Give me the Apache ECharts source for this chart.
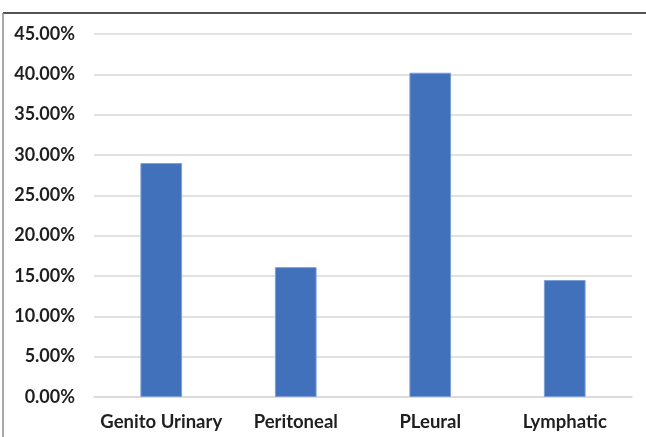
<!DOCTYPE html>
<html><head><meta charset="utf-8">
<script src="https://cdn.jsdelivr.net/npm/echarts@6/dist/echarts.min.js"></script>
<style>html,body{margin:0;padding:0;background:#fff}#c{width:646px;height:437px}</style>
</head><body><div id="c"></div>
<script>
const categories = ["Genito Urinary", "Peritoneal", "PLeural", "Lymphatic"];
const values = [0.290, 0.161, 0.402, 0.145];
const yMin = 0, yMax = 0.45, yStep = 0.05;

const chart = echarts.init(document.getElementById('c'));
chart.setOption({
  animation: false,
  backgroundColor: '#fff',
  graphic: [
    {type: 'line', shape: {x1: 3, y1: 13, x2: 646, y2: 13}, style: {stroke: '#1a1a1a', lineWidth: 1.5}},
    {type: 'line', shape: {x1: 3, y1: 13, x2: 3, y2: 437}, style: {stroke: '#8c8c8c', lineWidth: 1.5}}
  ],
  grid: {left: 94, right: 14, top: 34, bottom: 40, containLabel: false},
  xAxis: {
    type: 'category', data: categories,
    axisLine: {show: true, lineStyle: {color: '#d9d9d9', width: 1.5}},
    axisTick: {show: false},
    axisLabel: {interval: 0, color: '#1f1f1f', fontFamily: 'Lato', fontWeight: 'bold', fontSize: 18.5, margin: 16}
  },
  yAxis: {
    type: 'value', min: yMin, max: yMax, interval: yStep,
    axisLine: {show: false}, axisTick: {show: false},
    splitLine: {lineStyle: {color: '#d9d9d9', width: 1.5}},
    axisLabel: {color: '#1f1f1f', fontFamily: 'Lato', fontWeight: 'bold', fontSize: 18, margin: 19,
      formatter: v => (v * 100).toFixed(2) + '%'}
  },
  series: [{
    type: 'bar', data: values, barWidth: '31%',
    itemStyle: {color: '#4071BA', borderColor: '#7d9fd6', borderWidth: 1}
  }]
});
</script></body></html>
